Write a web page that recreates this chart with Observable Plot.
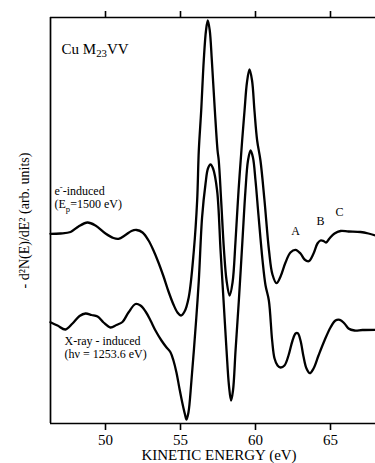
<!DOCTYPE html>
<html>
<head>
<meta charset="utf-8">
<script src="https://cdn.jsdelivr.net/npm/d3@7"></script>
<script src="https://cdn.jsdelivr.net/npm/@observablehq/plot@0.6"></script>
<style>
  html, body { margin: 0; padding: 0; background: #fff; }
  #chart { width: 375px; height: 463px; overflow: hidden; }
</style>
</head>
<body>
<div id="chart"></div>
<script>
// Electron-induced spectrum (kinetic energy in eV, -d2N/dE2 in arb. units)
const energyElectron = [46.33, 47.0, 47.67, 48.2, 48.8, 49.33, 50.0, 50.53, 50.87, 51.33, 51.73, 52.07, 52.47, 52.87, 53.2, 53.53, 53.87, 54.2, 54.53, 54.8, 55.03, 55.27, 55.55, 55.89, 56.11, 56.22, 56.38, 56.55, 56.7, 56.82, 56.95, 57.09, 57.29, 57.47, 57.55, 57.71, 57.9, 58.07, 58.27, 58.47, 58.67, 58.87, 59.11, 59.27, 59.43, 59.6, 59.77, 59.93, 60.11, 60.33, 60.6, 60.9, 61.13, 61.4, 61.67, 62.0, 62.33, 62.67, 63.0, 63.27, 63.55, 63.87, 64.13, 64.33, 64.53, 64.7, 64.93, 65.27, 65.67, 66.2, 67.0, 67.53, 68.0];
const signalElectron = [189.7, 190, 191.5, 197, 201, 198, 190, 185.5, 184.7, 188.5, 192.5, 193.5, 191, 183, 173, 161, 147, 132, 119, 111, 108, 112, 126.3, 173, 223, 273, 313, 363, 393, 403, 393, 363, 313, 273, 263, 223, 173, 143, 128, 141, 183, 233, 283, 313, 341, 354, 343, 313, 283, 263, 223, 173, 149, 140.3, 147, 161, 171, 173.7, 170, 164, 162.3, 170, 180, 183, 182.5, 181, 185, 190, 192.5, 192, 191.5, 190, 188];

// X-ray-induced spectrum
const energyXray = [46.33, 46.8, 47.33, 47.8, 48.27, 48.67, 49.07, 49.47, 49.87, 50.33, 50.73, 51.13, 51.53, 52.0, 52.33, 52.67, 53.0, 53.33, 53.73, 54.07, 54.33, 54.53, 54.73, 54.93, 55.13, 55.3, 55.4, 55.53, 55.73, 56.04, 56.22, 56.44, 56.67, 56.83, 57.0, 57.17, 57.44, 57.67, 57.87, 58.07, 58.23, 58.37, 58.5, 58.67, 58.89, 59.13, 59.33, 59.5, 59.67, 59.83, 60.0, 60.2, 60.47, 60.67, 60.89, 61.11, 61.27, 61.47, 61.67, 61.93, 62.2, 62.47, 62.67, 62.82, 63.0, 63.2, 63.4, 63.62, 63.87, 64.2, 64.6, 65.0, 65.33, 65.62, 65.93, 66.2, 66.6, 67.13, 68.0];
const signalXray = [101.3, 98, 94, 100, 107.5, 110, 108.5, 107, 101, 96, 98.5, 101.5, 111, 119.5, 118, 112, 103, 93, 83, 76, 71.3, 63, 51, 35, 20, 9, 4, 11, 43, 103, 143, 206.3, 240, 255, 259, 255, 233, 173, 123, 73, 38, 23, 33, 73, 123, 183, 233, 263, 273, 266, 243, 208, 163, 138, 123, 83, 65, 58, 56, 58, 68, 83, 90, 90.3, 83, 67, 55, 50.3, 55, 68, 83, 96, 103, 103.7, 100, 95, 93, 93.5, 93.7];

const xTicks = [50, 55, 60, 65];
const xDomain = [46.333, 68];
const yDomain = [0, 406];

const titleText = ["Cu M_{23}VV"];
const titleEnergy = [47.07];
const titleLevel = [374.5];

const noteText = ["e^{-}-induced", "(E_{p}=1500 eV)", "X-ray - induced", "(hν = 1253.6 eV)"];
const noteEnergy = [46.6, 46.6, 47.27, 47.27];
const noteLevel = [232.5, 219, 82.5, 69];

const peakText = ["A", "B", "C"];
const peakEnergy = [62.67, 64.33, 65.6];
const peakLevel = [192, 202, 211.3];

const xLabel = "KINETIC ENERGY (eV)";
const yLabel = "- d²N(E)/dE² (arb. units)";

const electron = energyElectron.map((e, i) => ({e, v: signalElectron[i]}));
const xray = energyXray.map((e, i) => ({e, v: signalXray[i]}));
const titles = titleText.map((t, i) => ({t, e: titleEnergy[i], v: titleLevel[i]}));
const notes = noteText.map((t, i) => ({t, e: noteEnergy[i], v: noteLevel[i]}));
const peaks = peakText.map((t, i) => ({t, e: peakEnergy[i], v: peakLevel[i]}));

const font = "'Liberation Serif', 'Times New Roman', serif";

const chart = Plot.plot({
  width: 375,
  height: 463,
  marginLeft: 50,
  marginRight: 0,
  marginTop: 17,
  marginBottom: 40,
  style: {fontFamily: font, background: "#fff", color: "#000", overflow: "visible"},
  x: {domain: xDomain},
  y: {domain: yDomain, axis: null},
  marks: [
    Plot.axisX({anchor: "bottom", ticks: xTicks, tickSize: 7, tickPadding: 4, fontSize: 15, strokeWidth: 1.6, label: null}),
    Plot.axisX({anchor: "top", ticks: xTicks, tickSize: 7, strokeWidth: 1.6, tickFormat: () => "", label: null}),
    Plot.ruleX([xDomain[0]], {strokeWidth: 1.7}),
    Plot.ruleY([yDomain[0], yDomain[1]], {strokeWidth: 1.6}),
    Plot.line(electron, {x: "e", y: "v", curve: "catmull-rom", strokeWidth: 2.3, stroke: "#000"}),
    Plot.line(xray, {x: "e", y: "v", curve: "catmull-rom", strokeWidth: 2.3, stroke: "#000"}),
    Plot.text(titles, {x: "e", y: "v", text: "t", textAnchor: "start", fontSize: 15}),
    Plot.text(notes, {x: "e", y: "v", text: "t", textAnchor: "start", fontSize: 12}),
    Plot.text(peaks, {x: "e", y: "v", text: "t", fontSize: 12}),
    Plot.text([xLabel], {frameAnchor: "bottom", textAnchor: "middle", lineAnchor: "middle", dy: 32, dx: 6, fontSize: 15}),
    Plot.text([yLabel], {frameAnchor: "left", textAnchor: "middle", lineAnchor: "middle", rotate: -90, dx: -26, fontSize: 14})
  ]
});

// render simple sub/superscript markup (_{..} and ^{..}) as tspans
d3.select(chart).selectAll("text").each(function() {
  const el = d3.select(this);
  const s = this.textContent;
  if (!/[_^]\{/.test(s)) return;
  el.text(null);
  const re = /([_^])\{([^}]*)\}/g;
  let last = 0, m, shift = 0;
  const add = (txt, dy, size) => {
    const t = el.append("tspan").text(txt);
    if (dy) t.attr("dy", dy + "px");
    if (size) t.attr("font-size", size);
  };
  while ((m = re.exec(s))) {
    if (m.index > last) { add(s.slice(last, m.index), -shift, null); shift = 0; }
    const d = m[1] === "_" ? 3.5 : -4.5;
    add(m[2], d - shift, "0.72em");
    shift = d;
    last = re.lastIndex;
  }
  if (last < s.length) add(s.slice(last), -shift, null);
});

document.getElementById("chart").appendChild(chart);
</script>
</body>
</html>
